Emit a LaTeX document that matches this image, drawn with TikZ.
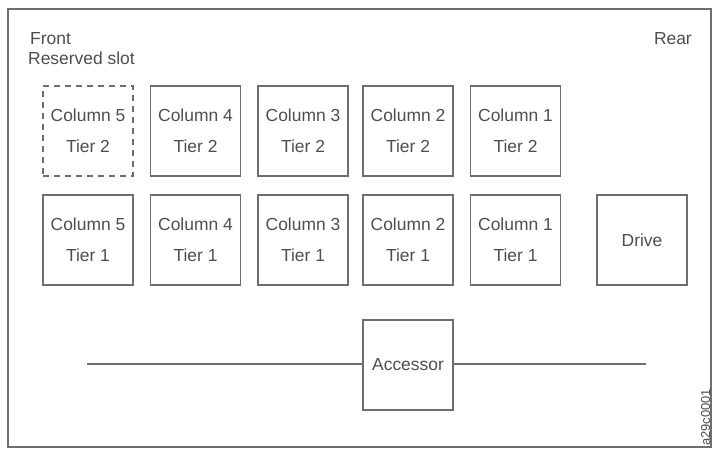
\documentclass[tikz,border=0pt]{standalone}
\usepackage{fontspec}
\setmainfont{Liberation Sans}
\usetikzlibrary{positioning}
\definecolor{linegray}{HTML}{6E6E6E}
\definecolor{textgray}{HTML}{4E4E4E}

\begin{document}
\begin{tikzpicture}[x=1bp, y=-1bp,
  every node/.style={font=\fontsize{17.5}{31}\selectfont, text=textgray},
  slot/.style={draw=linegray, line width=1.3bp, minimum width=90bp, minimum height=90bp, inner sep=0pt, align=center},
  reserved/.style={slot, dashed, dash pattern=on 6bp off 5bp},
  lbl/.style={anchor=base west, inner sep=0pt}]

  \useasboundingbox (0,0) rectangle (715,451);
  \draw[linegray, line width=1.2bp] (8,9) rectangle (711,447);

  % ===== Labels =====
  \node[lbl] (front) at (30,45) {Front};
  \node[lbl] (resv) at (28,65) {Reserved slot};
  \node[anchor=base east, inner sep=0pt] (rear) at (692,45) {Rear};

  % ===== Tier 2 (top row) =====
  \node[reserved] (c5t2) at (88,131) {Column 5\\Tier 2};
  \foreach \c/\x in {4/195.5, 3/303, 2/408, 1/515.5}
    \node[slot] (c\c t2) at (\x,131) {Column \c\\Tier 2};

  % ===== Tier 1 (bottom row) =====
  \foreach \c/\x in {5/88, 4/195.5, 3/303, 2/408, 1/515.5}
    \node[slot] (c\c t1) at (\x,240) {Column \c\\Tier 1};
  \node[slot] (drive) at (642,240) {Drive};

  % ===== Accessor on its rail =====
  \node[slot] (acc) at (408,365) {Accessor};
  \coordinate (railL) at (87,364);
  \coordinate (railR) at (646,364);
  \draw[linegray, line width=1.3bp] (railL) -- (acc.west |- railL);
  \draw[linegray, line width=1.3bp] (acc.east |- railR) -- (railR);

  \node[rotate=90, anchor=base west, inner sep=0pt, font=\fontsize{13}{15}\selectfont] (figid) at (710,446) {a29c0001};

\end{tikzpicture}
\end{document}
